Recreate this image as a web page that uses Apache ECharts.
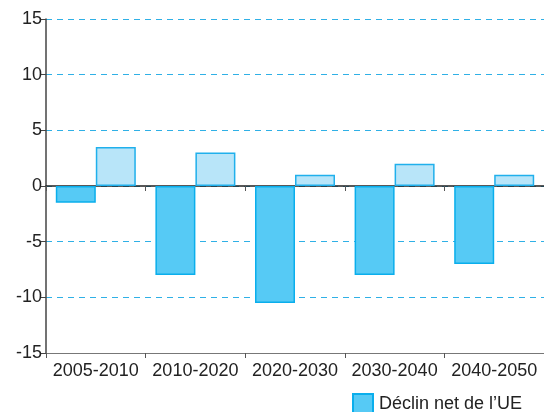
<!DOCTYPE html>
<html><head><meta charset="utf-8">
<script src="https://cdn.jsdelivr.net/npm/echarts@6/dist/echarts.min.js"></script>
<style>html,body{margin:0;padding:0;background:#fff}#c{width:544px;height:412px}</style>
</head><body><div id="c"></div>
<script>
const categories = ['2005-2010','2010-2020','2020-2030','2030-2040','2040-2050'];
const declinUE = [-1.5, -8, -10.5, -8, -7];
const serie2 = [3.5, 3, 1, 2, 1];
const seriesNames = ['Déclin net de l\u2019UE', 'Immigration nette'];
const yTicks = {min: -15, max: 15, interval: 5};

const chart = echarts.init(document.getElementById('c'));
const font = 'Liberation Sans, Arial, Helvetica, sans-serif';
chart.setOption({
  animation: false,
  grid: {left: 46, right: -2, top: 19, bottom: 59, containLabel: false},
  legend: {
    left: 352, top: 393, padding: 0, itemWidth: 20, itemHeight: 20, itemGap: 19,
    icon: 'rect',
    textStyle: {fontFamily: font, fontSize: 18, color: '#222', padding: [0,0,0,1]},
    data: seriesNames
  },
  xAxis: [{
    type: 'category', data: categories, position: 'bottom',
    axisLine: {onZero: false, lineStyle: {color: '#777', width: 1}},
    axisTick: {show: true, length: 5, lineStyle: {color: '#555'}},
    axisLabel: {fontFamily: font, fontSize: 18, color: '#222', margin: 9, interval: 0}
  }, {
    type: 'category', data: categories, position: 'bottom',
    axisLine: {onZero: true, lineStyle: {color: '#222', width: 1.5}},
    axisTick: {show: true, length: 5, lineStyle: {color: '#555'}},
    axisLabel: {show: false}
  }],
  yAxis: {
    type: 'value', min: yTicks.min, max: yTicks.max, interval: yTicks.interval,
    axisLine: {show: true, lineStyle: {color: '#444', width: 1.5}},
    axisTick: {show: true, length: 5, lineStyle: {color: '#444'}},
    axisLabel: {fontFamily: font, fontSize: 18, color: '#222', margin: 4},
    splitLine: {show: true, lineStyle: {color: '#2FB0E6', type: [6, 5], width: 1}}
  },
  series: [{
    name: seriesNames[0], type: 'bar', data: declinUE, barWidth: 40, barGap: '0%',
    itemStyle: {color: '#56CAF5', borderColor: '#0AAEEC', borderWidth: 1.5}
  }, {
    name: seriesNames[1], type: 'bar', data: serie2, barWidth: 40, barGap: '0%',
    itemStyle: {color: '#B8E5F9', borderColor: '#20B0EC', borderWidth: 1.5}
  }]
});
</script></body></html>
